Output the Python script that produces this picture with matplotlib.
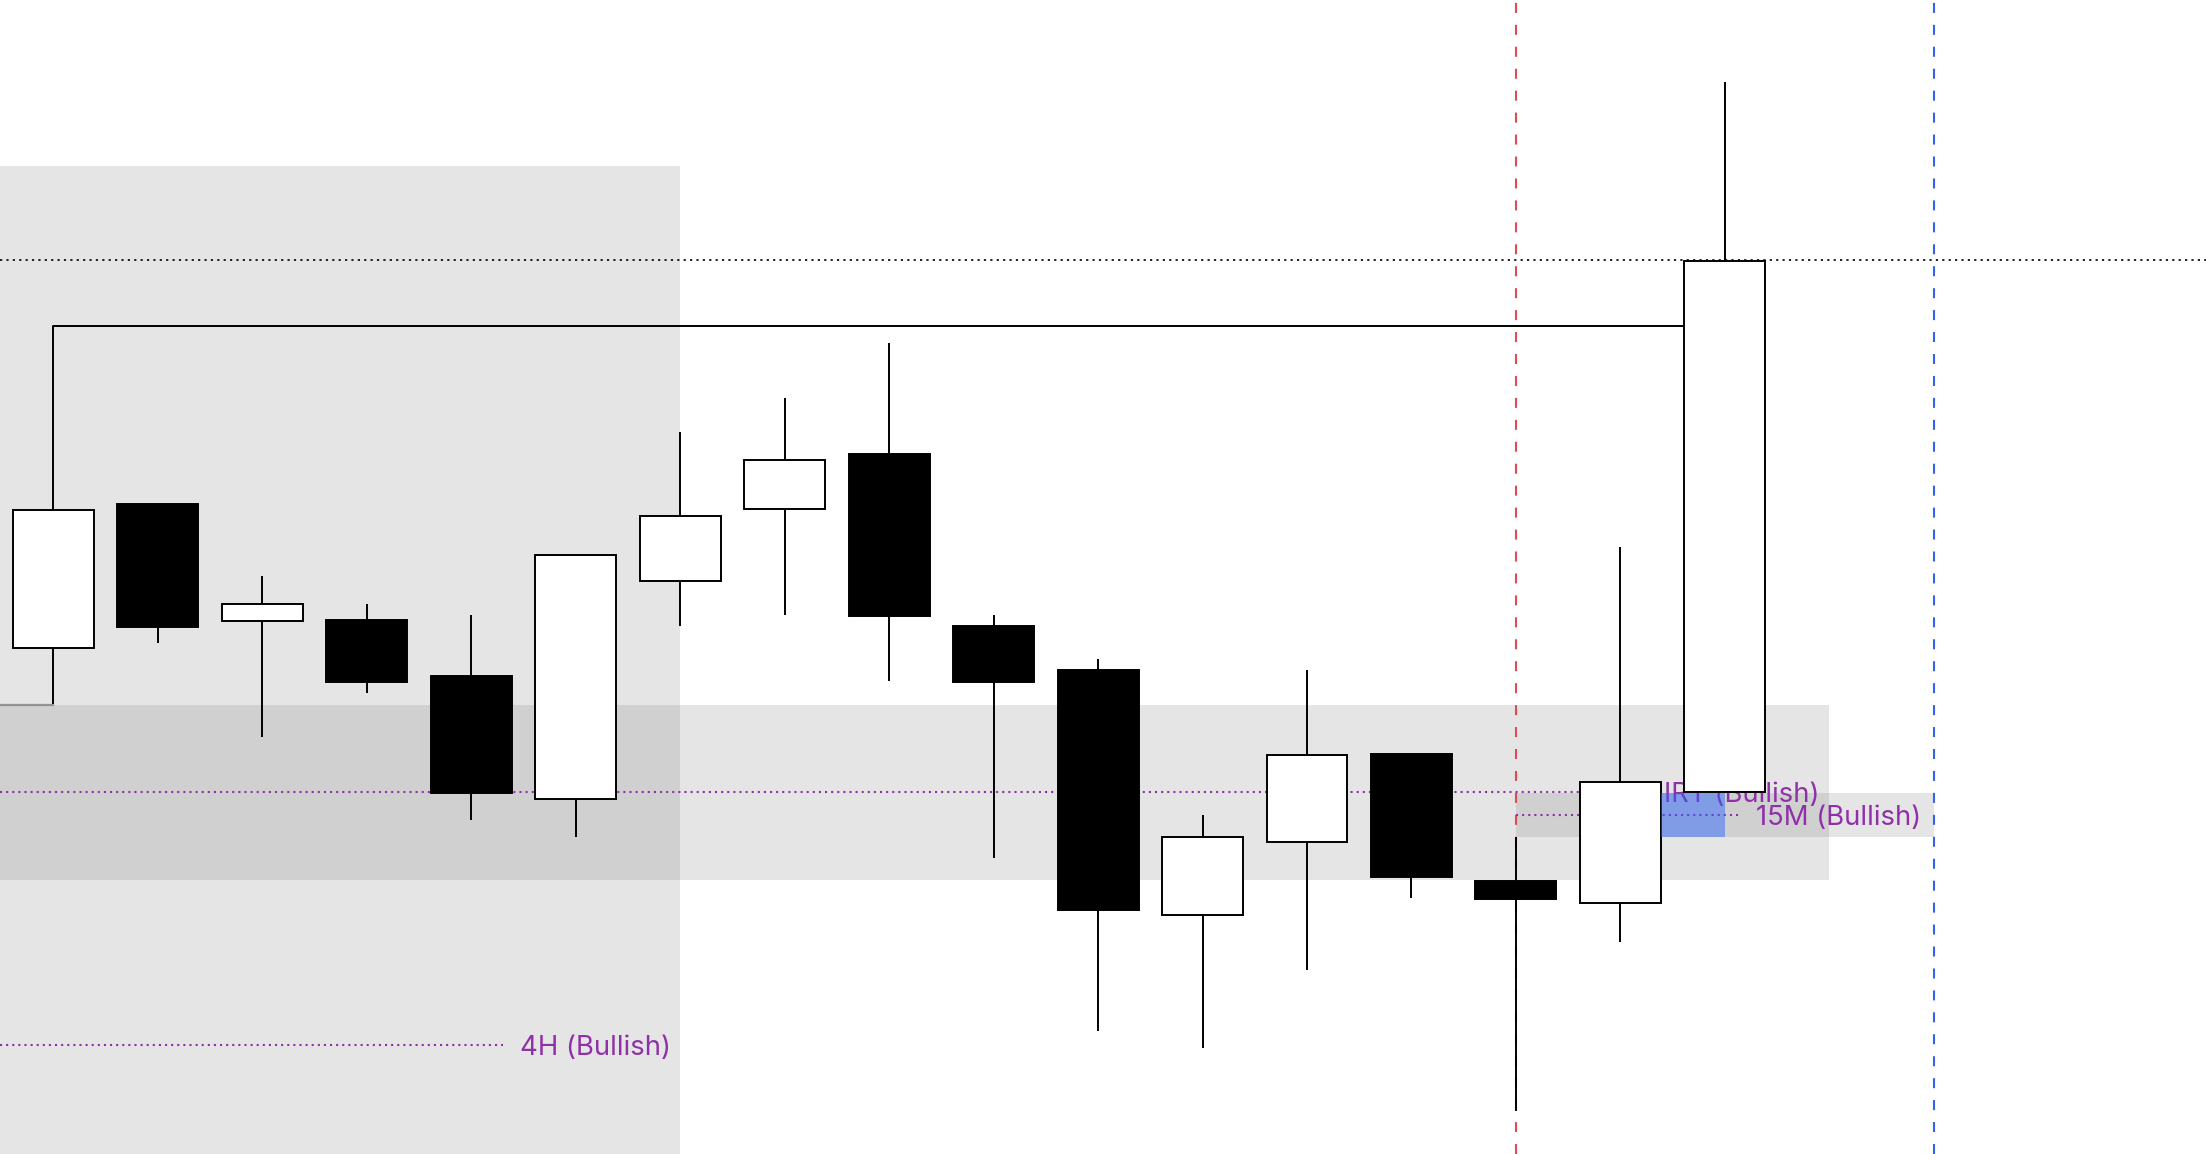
import matplotlib
matplotlib.use("Agg")
import matplotlib.pyplot as plt
from matplotlib.patches import Rectangle

plt.rcParams['font.family'] = ['Inter', 'DejaVu Sans']
plt.rcParams['lines.scale_dashes'] = False

# ---- data (arbitrary price units) ----
opens  = [359.5, 461.8, 379.0, 379.3, 339.5, 252.6, 407.0, 458.3, 497.4, 375.0, 343.9, 169.6, 221.5, 284.1, 193.8, 178.2, 257.2]
highs  = [457.8, 461.8, 410.6, 390.8, 382.9, 425.8, 512.8, 537.2, 576.3, 382.9, 351.7, 240.9, 343.9, 284.1, 225.4, 431.0, 761.7]
lows   = [319.9, 363.1, 296.3, 327.5, 237.1, 225.2, 375.3, 383.2, 336.2, 210.0, 87.3, 75.4, 130.9, 182.0, 30.8, 150.7, 257.2]
closes = [457.8, 374.5, 390.5, 335.2, 256.4, 425.8, 453.4, 493.3, 382.4, 335.4, 173.5, 224.9, 283.6, 197.0, 181.1, 264.6, 634.7]

top_level = 635.3          # dotted black level
bracket_level = 588.5      # swing high bracket
box_top = 702.0            # left grey box top
band_top, band_bottom = 319.0, 194.8
irt_level = 257.2
m15_level = 241.1
m15_zone = (225.6, 256.5)
h4_level = 77.5
labels = ["4H (Bullish)", "IRT (Bullish)", "15M (Bullish)"]

XMIN, XMAX = -0.512, 20.606
YMIN, YMAX = 0.0, 820.0
W = 0.775

fig = plt.figure(figsize=(22.06, 11.54), dpi=100)
ax = fig.add_axes([0, 0, 1, 1])
ax.set_xlim(XMIN, XMAX)
ax.set_ylim(YMIN, YMAX)
ax.axis('off')

grey = '#636363'
ga = 0.16
purple = '#9030a8'

# shaded regions
ax.add_patch(Rectangle((XMIN, YMIN), 6.0 - XMIN, box_top - YMIN, facecolor=grey, alpha=ga, lw=0, zorder=0))
ax.add_patch(Rectangle((XMIN, band_bottom), 17.0 - XMIN, band_top - band_bottom, facecolor=grey, alpha=ga, lw=0, zorder=0))
ax.add_patch(Rectangle((14.0, m15_zone[0]), 4.0, m15_zone[1] - m15_zone[0], facecolor=grey, alpha=ga, lw=0, zorder=0))

# small grey line at band top
ax.plot([XMIN, 0], [band_top, band_top], color='#8f9590', lw=1.6, zorder=1)

# vertical dashed session lines
ax.axvline(14, color='#e04a55', lw=1.5, linestyle=(0, (7.2, 8.6)), zorder=1)
ax.axvline(18, color='#3361f0', lw=1.5, linestyle=(0, (7.2, 8.6)), zorder=1)

# top dotted black level
ax.plot([XMIN, XMAX], [top_level, top_level], color='black', lw=1.2, linestyle=(0, (1.6, 3.0)), zorder=1)

# bracket
ax.plot([0, 0, 15.61], [closes[0], bracket_level, bracket_level], color='black', lw=1.4, zorder=2)

# purple dotted levels
dot = (0, (1.5, 2.9))
ax.plot([XMIN, 4.306], [h4_level, h4_level], color=purple, lw=1.5, linestyle=dot, zorder=1)
ax.plot([XMIN, 15.3], [irt_level, irt_level], color=purple, lw=1.5, linestyle=dot, zorder=1)
ax.plot([14.0, 16.14], [m15_level, m15_level], color=purple, lw=1.5, linestyle=dot, zorder=1)

fs = 19.8
dy = -2.0
ax.text(4.47, h4_level + dy, labels[0], color=purple, fontsize=fs, va='center', ha='left', zorder=2)
ax.text(15.42, irt_level + dy, labels[1], color=purple, fontsize=fs, va='center', ha='left', zorder=2)
ax.text(16.30, m15_level + dy, labels[2], color=purple, fontsize=fs, va='center', ha='left', zorder=2)

# candles
for i, (o, h, l, c) in enumerate(zip(opens, highs, lows, closes)):
    ax.plot([i, i], [l, h], color='black', lw=1.4, zorder=3, solid_capstyle='butt')
    bull = c >= o
    lo, hi = min(o, c), max(o, c)
    ax.add_patch(Rectangle((i - W / 2, lo), W, hi - lo,
                           facecolor='white' if bull else 'black',
                           edgecolor='black', lw=1.4, zorder=4))

# blue FVG box
ax.add_patch(Rectangle((15 + W / 2, m15_zone[0] - 0.2), 16 - (15 + W / 2), m15_zone[1] - m15_zone[0] + 0.5,
                       facecolor='#2962ff', alpha=0.47, lw=0, zorder=5))

fig.savefig('out.png', dpi=100)
